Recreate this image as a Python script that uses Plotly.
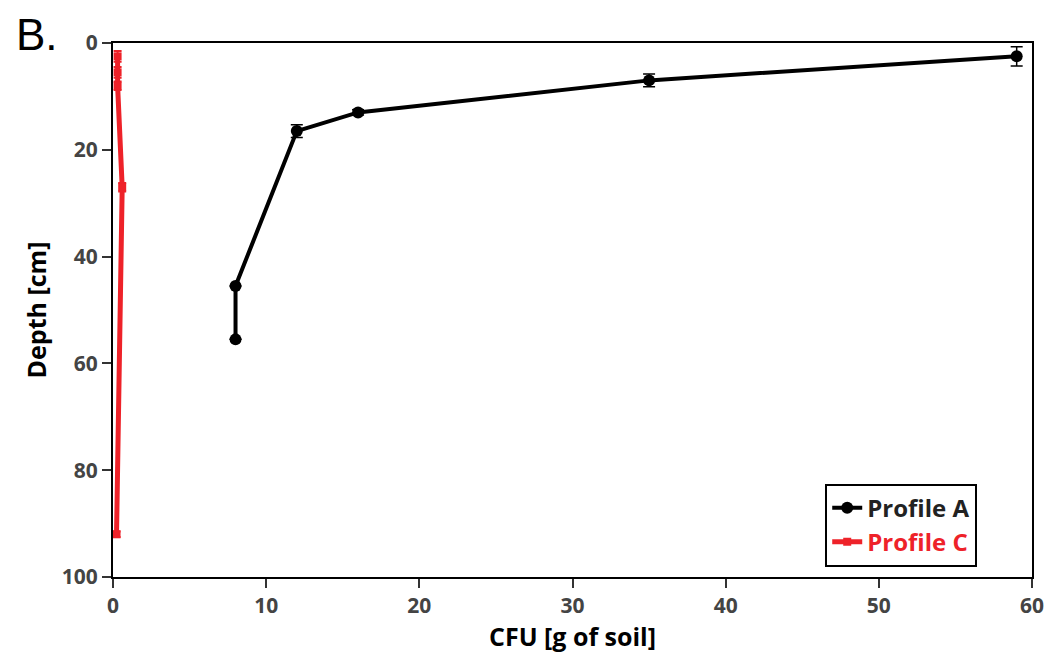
import plotly.graph_objects as go

# Profile A: CFU per gram of soil vs sampling depth
profile_a_cfu = [59, 35, 16, 12, 8, 8]
profile_a_depth = [2.5, 7, 13, 16.5, 45.5, 55.5]
profile_a_err = [1.8, 1.2, 0.5, 1.2, 0, 0]

# Profile C
profile_c_cfu = [0.3, 0.3, 0.3, 0.6, 0.23]
profile_c_depth = [2.5, 5.5, 8, 27, 92]
profile_c_err = [1.0, 1.0, 0.8, 0.8, 0.5]

x_ticks = [0, 10, 20, 30, 40, 50, 60]
y_ticks = [0, 20, 40, 60, 80, 100]

RED = "#ee2229"
FONT = "Open Sans"

fig = go.Figure()

fig.add_trace(go.Scatter(
    x=profile_a_cfu, y=profile_a_depth, mode="lines+markers",
    name="<b>Profile A</b>",
    line=dict(color="black", width=4),
    marker=dict(symbol="circle", size=12, color="black"),
    error_y=dict(type="data", array=profile_a_err, color="black", thickness=1.5, width=6),
))

fig.add_trace(go.Scatter(
    x=profile_c_cfu, y=profile_c_depth, mode="lines+markers",
    name=f"<b><span style='color:{RED}'>Profile C</span></b>",
    line=dict(color=RED, width=5),
    marker=dict(symbol="square", size=8, color=RED),
    error_y=dict(type="data", array=profile_c_err, color=RED, thickness=2, width=4),
))

axis_common = dict(
    showline=True, linecolor="black", linewidth=2, mirror=True,
    ticks="outside", ticklen=9, tickwidth=2, tickcolor="#333",
    showgrid=False, zeroline=False,
    tickfont=dict(family=FONT, size=21, color="#444", weight="bold"),
)

fig.update_layout(
    width=1056, height=655,
    margin=dict(l=113, r=22, t=43, b=77),
    paper_bgcolor="white", plot_bgcolor="white",
    font=dict(family=FONT, color="black"),
    xaxis=dict(range=[0, 60], tickvals=x_ticks,
               title=dict(text="<b>CFU [g of soil]</b>", font=dict(family=FONT, size=25), standoff=6),
               **axis_common),
    yaxis=dict(range=[100, 0], tickvals=y_ticks,
               title=dict(text="<b>Depth [cm]</b>", font=dict(family=FONT, size=25), standoff=8),
               **axis_common),
    legend=dict(
        x=0.775, y=0.175, xanchor="left", yanchor="top",
        bgcolor="white", bordercolor="black", borderwidth=2,
        font=dict(family=FONT, size=24, color="#222"),
        tracegroupgap=0, itemwidth=30,
    ),
    showlegend=True,
)

# Panel label in the page's top-left corner
fig.add_annotation(
    text="B.", xref="paper", yref="paper", x=-0.108, y=1.065,
    xanchor="left", yanchor="top", showarrow=False,
    font=dict(family="Liberation Sans", size=44, color="black"),
)

fig.write_html("out.html")
